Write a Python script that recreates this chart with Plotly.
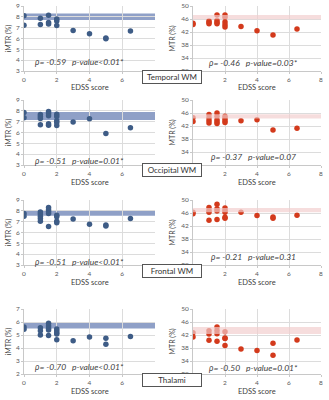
import plotly.graph_objects as go

W, H = 329, 400

regions = ["Temporal WM", "Occipital WM", "Frontal WM", "Thalami"]

# ---------------- data ----------------
temporal_imtr_edss = [0, 0, 1, 1, 1.5, 1.5, 1.5, 2, 2, 2, 3, 4, 5, 5, 6.5]
temporal_imtr = [8.1, 7.22, 7.87, 7.3, 8.15, 7.47, 7.35, 7.8, 7.62, 7.2, 6.73, 6.43, 6.05, 5.98, 6.7]
temporal_mtr_edss = [0, 0, 1, 1, 1, 1.5, 1.5, 1.5, 1.5, 2, 2, 2, 2, 2, 3, 4, 5, 6.5]
temporal_mtr = [44.7, 44.3, 45.4, 44.9, 44.5, 47.25, 45.5, 44.9, 44.5, 47.2, 46.5, 45.1, 44.2, 43.5, 43.7, 42.4, 41.1, 42.9]

occipital_imtr_edss = [0, 0, 1, 1, 1, 1, 1.5, 1.5, 1.5, 1.5, 1.5, 2, 2, 2, 2, 2, 3, 4, 5, 6.5]
occipital_imtr = [7.85, 7.36, 7.66, 7.48, 7.3, 6.71, 7.94, 7.75, 7.54, 6.8, 6.68, 7.69, 7.48, 7.08, 6.93, 6.65, 6.96, 7.26, 5.91, 6.44]
occipital_mtr_edss = [0, 0, 1, 1, 1, 1, 1.5, 1.5, 1.5, 1.5, 1.5, 2, 2, 2, 2, 3, 4, 5, 6.5]
occipital_mtr = [44.5, 43.4, 45.5, 44.5, 43.7, 42.9, 46.0, 45.0, 43.9, 43.3, 42.8, 45.0, 44.3, 43.6, 43.1, 43.6, 43.9, 40.8, 41.3]

frontal_imtr_edss = [0, 0, 1, 1, 1, 1, 1, 1.5, 1.5, 1.5, 1.5, 1.5, 2, 2, 2, 2, 3, 4, 5, 5, 6.5]
frontal_imtr = [7.75, 7.5, 7.9, 7.7, 7.5, 7.3, 7.05, 8.3, 8.1, 7.95, 7.75, 6.55, 7.6, 7.45, 7.05, 6.9, 7.25, 6.75, 6.7, 6.6, 7.3]
frontal_mtr_edss = [0, 0, 1, 1, 1, 1, 1.5, 1.5, 1.5, 1.5, 2, 2, 2, 2, 2, 3, 4, 5, 5, 6.5]
frontal_mtr = [46.2, 45.8, 47.7, 46.8, 46.2, 43.8, 48.7, 47.3, 46.6, 44.0, 47.5, 46.8, 46.2, 44.7, 44.4, 46.2, 45.2, 44.8, 44.4, 45.3]

thalami_imtr_edss = [0, 0, 1, 1, 1, 1.5, 1.5, 1.5, 1.5, 1.5, 2, 2, 2, 2, 2, 3, 4, 5, 5, 6.5]
thalami_imtr = [5.62, 5.44, 5.56, 5.33, 5.0, 5.9, 5.69, 5.51, 5.38, 4.97, 5.46, 5.33, 5.18, 5.08, 4.64, 4.56, 4.85, 4.75, 4.28, 4.88]
thalami_mtr_edss = [0, 0, 1, 1, 1, 1.5, 1.5, 1.5, 1.5, 2, 2, 2, 2, 3, 4, 5, 5, 6.5]
thalami_mtr = [42.7, 41.4, 43.3, 42.3, 40.4, 44.5, 43.4, 42.4, 40.1, 43.0, 41.1, 40.9, 38.8, 37.7, 37.2, 39.5, 35.8, 40.5]

# healthy-control reference bands (low, high)
imtr_bands = [(7.7, 8.3), (7.15, 7.9), (7.55, 8.05), (5.5, 5.95)]
mtr_bands = [(45.9, 47.2), (44.3, 45.6), (46.2, 47.5), (42.3, 44.5)]

imtr_stats = ["ρ= -0.59   p-value<0.01*", "ρ= -0.51   p-value=0.01*",
              "ρ= -0.51   p-value<0.01*", "ρ= -0.70   p-value<0.01*"]
mtr_stats = ["ρ= -0.46   p-value=0.03*", "ρ= -0.37   p-value=0.07",
             "ρ= -0.21   p-value=0.31", "ρ= -0.50   p-value=0.01*"]

imtr_ranges = [(3, 9), (3, 9), (3, 9), (2, 7)]
mtr_range = (30, 50)
edss_ticks = [0, 2, 4, 6, 8]

imtr_x = [temporal_imtr_edss, occipital_imtr_edss, frontal_imtr_edss, thalami_imtr_edss]
imtr_y = [temporal_imtr, occipital_imtr, frontal_imtr, thalami_imtr]
mtr_x = [temporal_mtr_edss, occipital_mtr_edss, frontal_mtr_edss, thalami_mtr_edss]
mtr_y = [temporal_mtr, occipital_mtr, frontal_mtr, thalami_mtr]

# ---------------- layout geometry (pixels) ----------------
col_px = [(24, 155), (193, 321)]
row_px = [(6, 71), (100, 165), (200, 265), (309, 374)]
stat_y_px = [(62, 63), (161, 157), (262, 257), (367, 368)]
stat_x_px = (79, 253)
label_y_px = [77, 170, 271, 380]
ytitle_x_px = (8, 172)


def px_x(p):
    return p / W


def px_y(p):
    return 1 - p / H


FONT = "Lato"
BLUE = "#3e5c86"
RED = "#d33a1c"

fig = go.Figure()
layout = {}
shapes = []
annotations = []

for r in range(4):
    for c in range(2):
        n = r * 2 + c + 1
        xs = "" if n == 1 else str(n)
        if c == 0:
            xv, yv, col, rng = imtr_x[r], imtr_y[r], BLUE, imtr_ranges[r]
            dtick, title = 1, "iMTR (%)"
            band, bcol, blayer = imtr_bands[r], "rgba(95,120,175,0.7)", "below"
            stat = imtr_stats[r]
        else:
            xv, yv, col, rng = mtr_x[r], mtr_y[r], RED, mtr_range
            dtick, title = 4, "MTR (%)"
            band, bcol, blayer = mtr_bands[r], "rgba(242,205,205,0.68)", "above"
            stat = mtr_stats[r]
        fig.add_trace(go.Scatter(
            x=xv, y=yv, mode="markers", xaxis="x" + xs, yaxis="y" + xs,
            marker=dict(size=5.5, color=col, line=dict(width=0)),
            showlegend=False, hoverinfo="x+y"))
        x0, x1 = col_px[c]
        y0, y1 = row_px[r]
        layout["xaxis" + xs] = dict(
            domain=[px_x(x0), px_x(x1)], anchor="y" + xs, range=[0, 8],
            tickvals=edss_ticks, showgrid=True, gridcolor="#dcdcdc", gridwidth=1,
            zeroline=False, showline=True, linecolor="#c8c8c8", linewidth=1,
            ticks="outside", ticklen=2, tickcolor="#c8c8c8", automargin=False,
            tickfont=dict(size=6.5, color="#595959", family=FONT))
        layout["yaxis" + xs] = dict(
            domain=[px_y(y1), px_y(y0)], anchor="x" + xs, range=list(rng),
            dtick=dtick, tick0=rng[0], showgrid=True, gridcolor="#dcdcdc", gridwidth=1,
            zeroline=False, showline=True, linecolor="#c8c8c8", linewidth=1,
            ticks="outside", ticklen=2, tickcolor="#c8c8c8", automargin=False,
            tickfont=dict(size=6.5, color="#595959", family=FONT))
        shapes.append(dict(type="rect", xref="x" + xs, yref="y" + xs,
                           x0=0, x1=8, y0=band[0], y1=band[1], fillcolor=bcol,
                           line=dict(width=0), layer=blayer))
        # stats text
        annotations.append(dict(
            text="<i>" + stat + "</i>", xref="paper", yref="paper",
            x=px_x(stat_x_px[c]), y=px_y(stat_y_px[r][c]), showarrow=False,
            xanchor="center", yanchor="middle",
            font=dict(size=8.5, color="#404040", family=FONT)))
        # x axis title
        annotations.append(dict(
            text="EDSS score", xref="paper", yref="paper",
            x=px_x((x0 + x1) / 2), y=px_y(y1 + 17), showarrow=False,
            xanchor="center", yanchor="middle",
            font=dict(size=7.5, color="#404040", family=FONT)))
        # y axis title
        annotations.append(dict(
            text=title, xref="paper", yref="paper", textangle=-90,
            x=px_x(ytitle_x_px[c]), y=px_y((y0 + y1) / 2), showarrow=False,
            xanchor="center", yanchor="middle",
            font=dict(size=7, color="#404040", family=FONT)))
    annotations.append(dict(
        text=regions[r], xref="paper", yref="paper", x=px_x(172), y=px_y(label_y_px[r]),
        showarrow=False, xanchor="center", yanchor="middle", width=56,
        bgcolor="white", bordercolor="#555555", borderwidth=1, borderpad=1,
        font=dict(size=8, color="#333333", family=FONT)))

fig.update_layout(
    width=W, height=H, margin=dict(l=0, r=0, t=0, b=0, autoexpand=False),
    paper_bgcolor="white", plot_bgcolor="white",
    shapes=shapes, annotations=annotations, **layout)

fig.write_html("out.html", config={"displayModeBar": False},
               post_script="document.body.style.margin='0';document.body.style.overflow='hidden';")
